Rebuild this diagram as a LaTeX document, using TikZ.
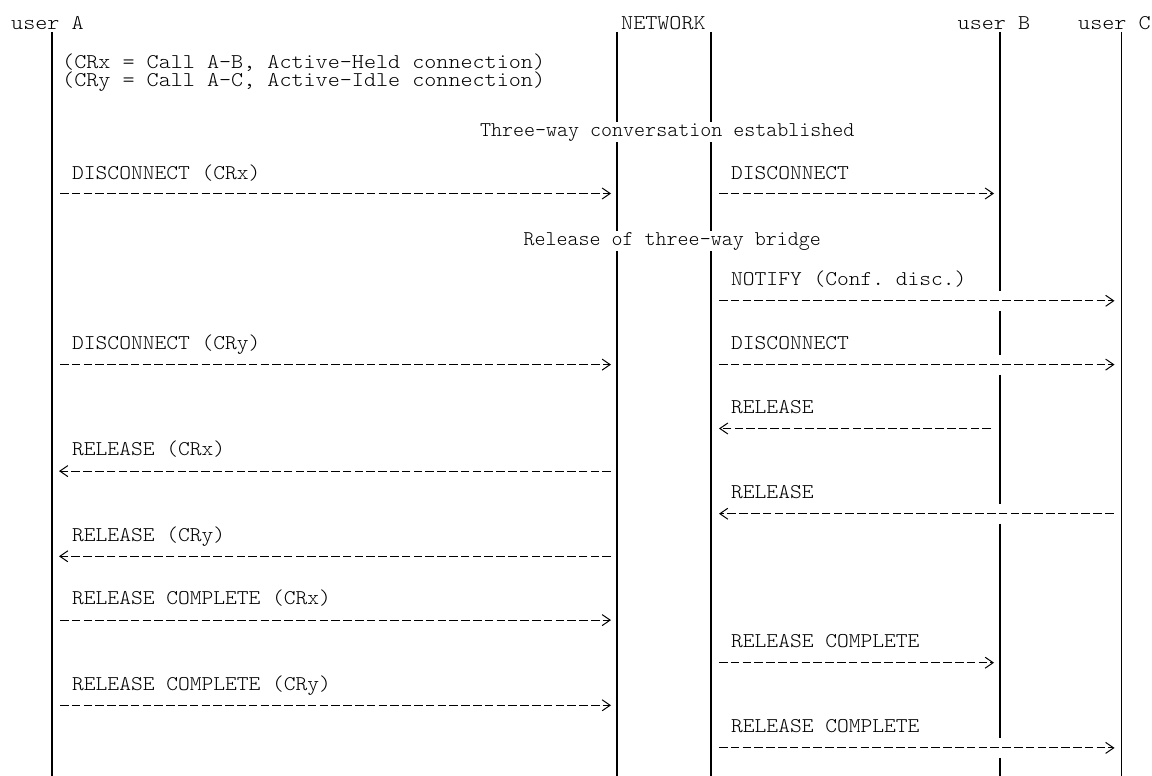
\documentclass[tikz,border=0pt]{standalone}
\usepackage{fontspec}
\setmonofont{lmmonolt10-regular.otf}
\usepackage{graphicx}
\usetikzlibrary{arrows.meta,calc}
\newcommand{\hs}[2]{\scalebox{#1}[1]{#2}}
\begin{document}
\begin{tikzpicture}[x=1pt,y=-1pt,
  life/.style={line width=1.8pt},
  msg/.style={line width=1.1pt,dash pattern=on 8.6pt off 3.2pt,
    -{Straight Barb[length=8pt,width=11pt,line width=1pt]}},
  txt/.style={anchor=base west,inner sep=0pt,font=\fontsize{21}{21}\selectfont\ttfamily},
  band/.style={txt,fill=white,inner ysep=1pt}]
\useasboundingbox (0,0) rectangle (1152,776);
% lifeline tops and bottom row
\coordinate (A) at (52,32);
\coordinate (N1) at (617,32);
\coordinate (N2) at (711,32);
\coordinate (B) at (1000,32);
\coordinate (C) at (1121.5,32);
\coordinate (bot) at (0,777);
% rows
\coordinate (r8) at (0,193.5);
\coordinate (r13) at (0,300.8);
\coordinate (r16) at (0,364.6);
\coordinate (r19) at (0,428.5);
\coordinate (r21) at (0,471.1);
\coordinate (r23) at (0,513.7);
\coordinate (r25) at (0,556.3);
\coordinate (r28) at (0,620.1);
\coordinate (r30) at (0,662.7);
\coordinate (r32) at (0,705.3);
\coordinate (r34) at (0,747.9);
% headers
\node[txt] (hA) at (11,30) {\hs{1.095}{user A}};
\node[txt] (hN) at (621,30) {\hs{1.095}{NETWORK}};
\node[txt] (hB) at (957.5,30) {\hs{1.095}{user B}};
\node[txt] (hC) at (1078,30) {\hs{1.095}{user C}};
% lifelines
\draw[life] (A) -- (A |- bot);
\draw[life] (N1) -- (N1 |- bot);
\draw[life] (N2) -- (N2 |- bot);
\draw[life] (C) -- (C |- bot);
\draw[life] (B) -- ($(B |- r13)+(0,-10)$);
\draw[life] ($(B |- r13)+(0,10)$) -- ($(B |- r16)+(0,-10)$);
\draw[life] ($(B |- r16)+(0,10)$) -- ($(B |- r23)+(0,-10)$);
\draw[life] ($(B |- r23)+(0,10)$) -- ($(B |- r34)+(0,-10)$);
\draw[life] ($(B |- r34)+(0,10)$) -- (B |- bot);
% notes
\node[txt] (n1) at (62,69) {\hs{1.095}{(CRx = Call A-B, Active-Held connection)}};
\node[txt] (n2) at (62,86) {\hs{1.095}{(CRy = Call A-C, Active-Idle connection)}};
\node[band] (s1) at (480,136) {\hs{0.998}{Three-way conversation established}};
\node[band] (s2) at (523.5,245) {\hs{0.998}{Release of three-way bridge}};
% labels
\node[txt] (l1) at (72,179) {\hs{1.067}{DISCONNECT (CRx)}};
\node[txt] (l2) at (731,179) {\hs{1.067}{DISCONNECT}};
\node[txt] (l3) at (731,285.5) {\hs{1.067}{NOTIFY (Conf. disc.)}};
\node[txt] (l4) at (72,349.4) {\hs{1.067}{DISCONNECT (CRy)}};
\node[txt] (l5) at (731,349.4) {\hs{1.067}{DISCONNECT}};
\node[txt] (l6) at (731,413.2) {\hs{1.067}{RELEASE}};
\node[txt] (l7) at (72,455.8) {\hs{1.067}{RELEASE (CRx)}};
\node[txt] (l8) at (731,498.4) {\hs{1.067}{RELEASE}};
\node[txt] (l9) at (72,541) {\hs{1.067}{RELEASE (CRy)}};
\node[txt] (l10) at (72,604.8) {\hs{1.067}{RELEASE COMPLETE (CRx)}};
\node[txt] (l11) at (731,647.4) {\hs{1.067}{RELEASE COMPLETE}};
\node[txt] (l12) at (72,690) {\hs{1.067}{RELEASE COMPLETE (CRy)}};
\node[txt] (l13) at (731,732.6) {\hs{1.067}{RELEASE COMPLETE}};
% messages
\draw[msg] ($(A |- r8)+(8,0)$) -- ($(N1 |- r8)+(-6,0)$);
\draw[msg] ($(N2 |- r8)+(8,0)$) -- ($(B |- r8)+(-6,0)$);
\draw[msg] ($(N2 |- r13)+(8,0)$) -- ($(C |- r13)+(-7,0)$);
\draw[msg] ($(A |- r16)+(8,0)$) -- ($(N1 |- r16)+(-6,0)$);
\draw[msg] ($(N2 |- r16)+(8,0)$) -- ($(C |- r16)+(-7,0)$);
\draw[msg] ($(B |- r19)+(-9,0)$) -- ($(N2 |- r19)+(8,0)$);
\draw[msg] ($(N1 |- r21)+(-6,0)$) -- ($(A |- r21)+(7,0)$);
\draw[msg] ($(C |- r23)+(-8,0)$) -- ($(N2 |- r23)+(8,0)$);
\draw[msg] ($(N1 |- r25)+(-6,0)$) -- ($(A |- r25)+(7,0)$);
\draw[msg] ($(A |- r28)+(8,0)$) -- ($(N1 |- r28)+(-6,0)$);
\draw[msg] ($(N2 |- r30)+(8,0)$) -- ($(B |- r30)+(-6,0)$);
\draw[msg] ($(A |- r32)+(8,0)$) -- ($(N1 |- r32)+(-6,0)$);
\draw[msg] ($(N2 |- r34)+(8,0)$) -- ($(C |- r34)+(-7,0)$);
\end{tikzpicture}
\end{document}
